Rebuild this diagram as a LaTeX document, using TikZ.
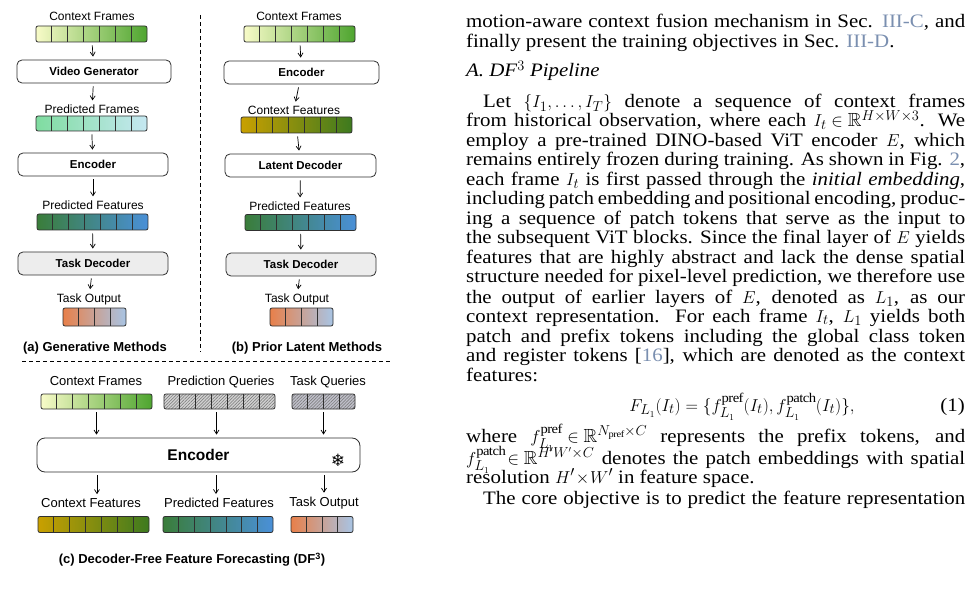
\documentclass[tikz,border=0pt]{standalone}
\usepackage{amssymb}
\usepackage{fontspec}
\setmainfont[FakeStretch=1.1]{Liberation Serif}
\newfontfamily\arialf{Liberation Sans}
\newfontfamily\djv{DejaVu Sans}
\usetikzlibrary{arrows.meta,calc,patterns.meta}
\definecolor{lnk}{HTML}{7A8FB0}
\definecolor{cfL}{HTML}{F8FBC8}\definecolor{cfR}{HTML}{4EA52F}
\definecolor{pfL}{HTML}{7FDCA0}\definecolor{pfR}{HTML}{C6E8F2}
\definecolor{peL}{HTML}{3A7D3A}\definecolor{peR}{HTML}{4A90D8}
\definecolor{ceL}{HTML}{C9A000}\definecolor{ceR}{HTML}{3D7A1F}
\definecolor{toL}{HTML}{E8804A}\definecolor{toR}{HTML}{A8C4E4}
\definecolor{edge}{HTML}{303030}
\newcommand{\cells}[2]{\foreach \i in {1,...,#2}{\pgfmathsetmacro\f{\i/(#2+1)}
  \draw[edge,line width=0.7pt] ($(#1.north west)!\f!(#1.north east)$) -- ($(#1.south west)!\f!(#1.south east)$);}}
\newcommand{\fixmath}{\thickmuskip=5mu\relax\medmuskip=4mu\relax}
\tikzset{
  bar/.style={draw=edge,line width=0.8pt,rounded corners=2pt,minimum height=16pt,inner sep=0pt},
  box/.style={draw=edge,line width=0.8pt,rounded corners=5pt,fill=white,minimum height=23pt,inner sep=0pt,font=\arialf\bfseries\fontsize{11.5}{13}\selectfont},
  lab/.style={font=\arialf\fontsize{12}{13}\selectfont,inner sep=1pt},
  labc/.style={font=\arialf\fontsize{13}{15}\selectfont,inner sep=1pt},
  captxt/.style={font=\arialf\bfseries\fontsize{13}{15}\selectfont,inner sep=1pt},
  arr/.style={-{Straight Barb[length=4pt,width=5pt]},line width=0.7pt,shorten <=3pt,shorten >=3pt},
  txt/.style={anchor=base west,inner sep=0pt,font=\fontsize{19}{19.5}\selectfont\fixmath},
  hatch/.style={preaction={fill=#1},pattern={Lines[angle=45,distance=2.2pt,line width=0.5pt]},pattern color=black!55}
}
\begin{document}
\begin{tikzpicture}[x=1pt,y=-1pt]
\useasboundingbox (0,0) rectangle (973,593);
\fill[white] (0,0) rectangle (973,593);
% ---------- panel a
\node[lab] (la1) at (92,16) {Context Frames};
\node[bar,minimum width=111pt,left color=cfL,right color=cfR] (cfa) at (91.5,34) {};\cells{cfa}{6}
\node[box,minimum width=154pt] (vg) at (94,71.5) {Video Generator};
\node[lab] (la2) at (92,109) {Predicted Frames};
\node[bar,minimum width=111pt,minimum height=15pt,left color=pfL,right color=pfR] (pfa) at (91.5,123.5) {};\cells{pfa}{6}
\node[box,minimum width=150pt] (enca) at (93,164.5) {Encoder};
\node[lab] (la3) at (93,205) {Predicted Features};
\node[bar,minimum width=111pt,left color=peL,right color=peR] (pea) at (92.5,222) {};\cells{pea}{6}
\node[box,minimum width=150pt,fill=black!7] (tda) at (93,263.5) {Task Decoder};
\node[lab] (la4) at (89,299) {Task Output};
\node[bar,minimum width=63pt,minimum height=18pt,left color=toL,right color=toR] (toa) at (94.5,317) {};\cells{toa}{3}
\node[captxt] (capa) at (95,348) {(a) Generative Methods};
\draw[arr] (cfa) -- (vg);
\draw[arr] (vg) -- (la2);
\draw[arr] (pfa) -- (enca);
\draw[arr] (enca) -- (la3);
\draw[arr] (pea) -- (tda);
\draw[arr] (tda) -- (la4);
% ---------- panel b
\node[lab] (lb1) at (299,16) {Context Frames};
\node[bar,minimum width=111pt,left color=cfL,right color=cfR] (cfb) at (299.5,34) {};\cells{cfb}{6}
\node[box,minimum width=155pt] (encb) at (301.5,72.5) {Encoder};
\node[lab] (lb2) at (294,110) {Context Features};
\node[bar,minimum width=111pt,left color=ceL,right color=ceR] (ceb) at (296.5,125) {};\cells{ceb}{6}
\node[box,minimum width=151pt] (ldb) at (300.5,165.5) {Latent Decoder};
\node[lab] (lb3) at (300,206) {Predicted Features};
\node[bar,minimum width=111pt,left color=peL,right color=peR] (peb) at (300.5,222.5) {};\cells{peb}{6}
\node[box,minimum width=150pt,fill=black!7] (tdb) at (301,264.5) {Task Decoder};
\node[lab] (lb4) at (297,299) {Task Output};
\node[bar,minimum width=63pt,minimum height=18pt,left color=toL,right color=toR] (tob) at (301.5,317) {};\cells{tob}{3}
\node[captxt] (capb) at (307,348) {(b) Prior Latent Methods};
\draw[arr] (cfb) -- (encb);
\draw[arr] (encb) -- (lb2);
\draw[arr] (ceb) -- (ldb);
\draw[arr] (ldb) -- (lb3);
\draw[arr] (peb) -- (tdb);
\draw[arr] (tdb) -- (lb4);
% dividers
\coordinate (v1) at (200,15);\coordinate (v2) at (200,352);
\coordinate (h1) at (22,361);\coordinate (h2) at (390,361);
\draw[line width=0.9pt,dash pattern=on 4pt off 3pt] (v1) -- (v2);
\draw[line width=0.9pt,dash pattern=on 4pt off 3pt] (h1) -- (h2);
% ---------- panel c
\node[labc] (lc1) at (96,381) {Context Frames};
\node[labc] (lc2) at (221,382) {Prediction Queries};
\node[labc] (lc3) at (328,382) {Task Queries};
\node[bar,minimum width=111pt,minimum height=15pt,left color=cfL,right color=cfR] (cfc) at (96.5,401.5) {};\cells{cfc}{6}
\node[bar,minimum width=111pt,minimum height=15pt,hatch=black!18] (pqc) at (219.5,401.5) {};\cells{pqc}{6}
\node[bar,minimum width=63pt,minimum height=15pt,hatch=blue!15!black!25] (tqc) at (323.5,401.5) {};\cells{tqc}{3}
\node[box,minimum width=323pt,minimum height=34pt,rounded corners=8pt,font=\arialf\bfseries\fontsize{15.5}{17}\selectfont] (encc) at (198.5,455) {Encoder};
\node[font=\djv\fontsize{17}{18}\selectfont,inner sep=0pt] (snow) at (338,460) {❄};
\node[labc] (lc4) at (91,503) {Context Features};
\node[labc] (lc5) at (219,503) {Predicted Features};
\node[labc] (lc6) at (324,503) {Task Output};
\node[bar,minimum width=111pt,left color=ceL,right color=ceR] (cec) at (93.5,524.5) {};\cells{cec}{6}
\node[bar,minimum width=110pt,left color=peL,right color=peR] (pec) at (218,524.5) {};\cells{pec}{6}
\node[bar,minimum width=62pt,left color=toL,right color=toR] (toc) at (322,524.5) {};\cells{toc}{3}
\node[captxt] (capc) at (192,560) {(c) Decoder-Free Feature Forecasting (DF\textsuperscript{3})};
\draw[arr] (cfc.south) -- (cfc.south |- encc.north);
\draw[arr] ([xshift=-3pt]pqc.south) -- ([xshift=-3pt]pqc.south |- encc.north);
\draw[arr] (tqc.south) -- (tqc.south |- encc.north);
\draw[arr] (encc.south -| 97,0) -- (lc4.north -| 97,0);
\draw[arr] (encc.south -| 216,0) -- (lc5.north -| 216,0);
\draw[arr] (encc.south -| 324,0) -- (lc6.north -| 324,0);
% ---------- right text column
\def\W{499pt}
\node[txt] (t1) at (466,28) {\makebox[\W][s]{motion-aware context fusion mechanism in Sec. \textcolor{lnk}{III-C}, and}};
\node[txt] (t2) at (466,48) {finally present the training objectives in Sec. \textcolor{lnk}{III-D}.};
\node[txt] (t3) at (466,77) {\textit{A. DF$^3$ Pipeline}};
\node[txt] (t4) at (483,108) {\makebox[482pt][s]{Let $\{I_1,\ldots,I_T\}$ denote a sequence of context frames}};
\node[txt] (t5) at (466,127) {\makebox[\W][s]{from historical observation, where each $I_t\in\mathbb{R}^{H\times W\times 3}$. We}};
\node[txt] (t6) at (466,147) {\makebox[\W][s]{employ a pre-trained DINO-based ViT encoder $E$, which}};
\node[txt] (t7) at (466,166) {\makebox[\W][s]{remains entirely frozen during training. As shown in Fig. \textcolor{lnk}{2},}};
\node[txt] (t8) at (466,186) {\makebox[\W][s]{each frame $I_t$ is first passed through the \textit{initial embedding},}};
\node[txt] (t9) at (466,205) {\makebox[\W][s]{including patch embedding and positional encoding, produc-}};
\node[txt] (t10) at (466,225) {\makebox[\W][s]{ing a sequence of patch tokens that serve as the input to}};
\node[txt] (t11) at (466,244) {\makebox[\W][s]{the subsequent ViT blocks. Since the final layer of $E$ yields}};
\node[txt] (t12) at (466,264) {\makebox[\W][s]{features that are highly abstract and lack the dense spatial}};
\node[txt] (t13) at (466,283) {\makebox[\W][s]{structure needed for pixel-level prediction, we therefore use}};
\node[txt] (t14) at (466,303) {\makebox[\W][s]{the output of earlier layers of $E$, denoted as $L_1$, as our}};
\node[txt] (t15) at (466,322) {\makebox[\W][s]{context representation. For each frame $I_t$, $L_1$ yields both}};
\node[txt] (t16) at (466,342) {\makebox[\W][s]{patch and prefix tokens including the global class token}};
\node[txt] (t17) at (466,361) {\makebox[\W][s]{and register tokens [\textcolor{lnk}{16}], which are denoted as the context}};
\node[txt] (t18) at (466,381) {features:};
\node[txt,anchor=base] (eq) at (742,411) {$F_{L_1}(I_t)=\{f^{\mathrm{pref}}_{L_1}(I_t),f^{\mathrm{patch}}_{L_1}(I_t)\},$};
\node[txt,anchor=base east] (eqn) at (965,411) {(1)};
\node[txt] (t19) at (466,442) {\makebox[\W][s]{where $f^{\mathrm{pref}}_{L_1}\in\mathbb{R}^{N_{\mathrm{pref}}\times C}$ represents the prefix tokens, and}};
\node[txt] (t20) at (466,464) {\makebox[\W][s]{$f^{\mathrm{patch}}_{L_1}\!\in\mathbb{R}^{H'W'\times C}$ denotes the patch embeddings with spatial}};
\node[txt] (t21) at (466,483) {resolution $H'\!\times\! W'$ in feature space.};
\node[txt] (t22) at (483,504) {\makebox[482pt][s]{The core objective is to predict the feature representation}};
\end{tikzpicture}
\end{document}
